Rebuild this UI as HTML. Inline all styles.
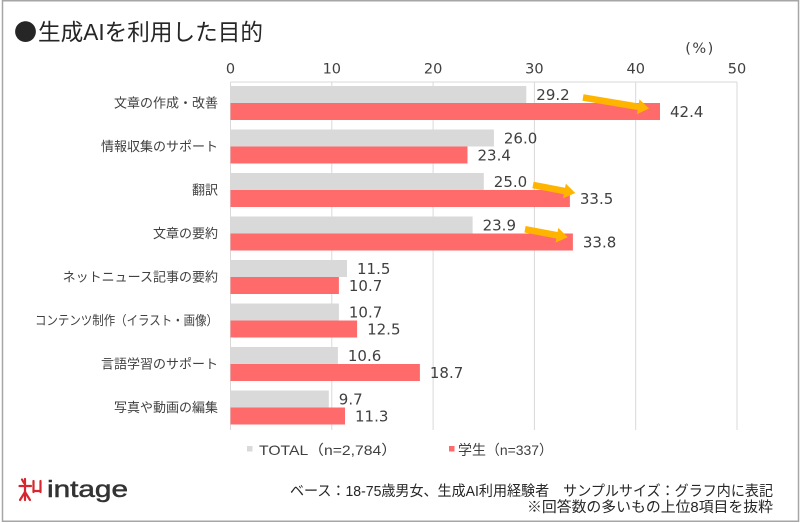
<!DOCTYPE html>
<html><head><meta charset="utf-8"><style>
html,body{margin:0;padding:0;background:#fff;}
svg{display:block;}
.cat{font-family:"Liberation Sans","Noto Sans CJK JP",sans-serif;font-size:13px;fill:#404040;}
.val{font-family:"DejaVu Sans",sans-serif;font-size:15px;fill:#404040;}
.tick{font-family:"DejaVu Sans",sans-serif;font-size:14.5px;fill:#404040;}
</style></head><body>
<svg width="800" height="523" viewBox="0 0 800 523" xmlns="http://www.w3.org/2000/svg">
<rect x="0" y="0" width="800" height="523" fill="#fff"/>
<rect x="2.5" y="0.75" width="796" height="520.5" fill="none" stroke="#a6a6a6" stroke-width="1.5"/>
<text x="14" y="40" font-family="'Noto Sans CJK JP',sans-serif" font-size="23" fill="#262626">●</text>
<text x="38" y="40" font-family="'Liberation Sans','Noto Sans CJK JP',sans-serif" font-size="23" fill="#262626" textLength="225" lengthAdjust="spacingAndGlyphs">生成AIを利用した目的</text>
<text x="700" y="53" text-anchor="middle" class="tick" letter-spacing="1.5">(%)</text>
<g class="tick" text-anchor="middle">
<text x="230.5" y="73.6">0</text><text x="331.8" y="73.6">10</text><text x="433.1" y="73.6">20</text><text x="534.4" y="73.6">30</text><text x="635.7" y="73.6">40</text><text x="737" y="73.6">50</text>
</g>
<g stroke="#d9d9d9" stroke-width="1">
<line x1="230.5" y1="82" x2="737" y2="82"/>
<line x1="230.5" y1="82" x2="230.5" y2="430"/>
<line x1="331.8" y1="82" x2="331.8" y2="430"/>
<line x1="433.1" y1="82" x2="433.1" y2="430"/>
<line x1="534.4" y1="82" x2="534.4" y2="430"/>
<line x1="635.7" y1="82" x2="635.7" y2="430"/>
<line x1="737" y1="82" x2="737" y2="430"/>
</g>
<g fill="#d9d9d9">
<rect x="230.5" y="86" width="295.8" height="17"/>
<rect x="230.5" y="129.5" width="263.4" height="17"/>
<rect x="230.5" y="173" width="253.3" height="17"/>
<rect x="230.5" y="216.5" width="242.1" height="17"/>
<rect x="230.5" y="260" width="116.5" height="17"/>
<rect x="230.5" y="303.5" width="108.4" height="17"/>
<rect x="230.5" y="347" width="107.4" height="17"/>
<rect x="230.5" y="390.5" width="98.3" height="17"/>
</g>
<g fill="#ff6b6b">
<rect x="230.5" y="103" width="429.5" height="17"/>
<rect x="230.5" y="146.5" width="237.0" height="17"/>
<rect x="230.5" y="190" width="339.4" height="17"/>
<rect x="230.5" y="233.5" width="342.4" height="17"/>
<rect x="230.5" y="277" width="108.4" height="17"/>
<rect x="230.5" y="320.5" width="126.6" height="17"/>
<rect x="230.5" y="364" width="189.4" height="17"/>
<rect x="230.5" y="407.5" width="114.5" height="17"/>
</g>
<g class="cat" text-anchor="end">
<text x="218" y="107.7">文章の作成・改善</text>
<text x="218" y="151.2">情報収集のサポート</text>
<text x="218" y="194.7">翻訳</text>
<text x="218" y="238.2">文章の要約</text>
<text x="218" y="281.7">ネットニュース記事の要約</text>
<text x="218" y="325.2" textLength="183" lengthAdjust="spacingAndGlyphs">コンテンツ制作（イラスト・画像）</text>
<text x="218" y="368.7">言語学習のサポート</text>
<text x="218" y="412.2">写真や動画の編集</text>
</g>
<g class="val">
<text x="536.3" y="100">29.2</text><text x="670" y="117">42.4</text>
<text x="503.9" y="143.5">26.0</text><text x="477.5" y="160.5">23.4</text>
<text x="493.8" y="187">25.0</text><text x="579.9" y="204">33.5</text>
<text x="482.6" y="230.5">23.9</text><text x="582.9" y="247.5">33.8</text>
<text x="357" y="274">11.5</text><text x="348.9" y="291">10.7</text>
<text x="348.9" y="317.5">10.7</text><text x="367.1" y="334.5">12.5</text>
<text x="347.9" y="361">10.6</text><text x="429.9" y="378">18.7</text>
<text x="338.8" y="404.5">9.7</text><text x="355" y="421.5">11.3</text>
</g>
<g fill="#ffb400">
<g transform="translate(583,97.5) rotate(9.5)"><polygon points="0,-3.3 56,-3.3 56,-7.5 67,0 56,7.5 56,3.3 0,3.3"/></g>
<g transform="translate(533,185) rotate(10.8)"><polygon points="0,-3.3 32,-3.3 32,-7.5 43,0 32,7.5 32,3.3 0,3.3"/></g>
<g transform="translate(525,229.3) rotate(10.5)"><polygon points="0,-3.3 32.5,-3.3 32.5,-7.5 43.5,0 32.5,7.5 32.5,3.3 0,3.3"/></g>
</g>
<rect x="247" y="446" width="5.5" height="5.5" fill="#d9d9d9"/>
<text x="259" y="455" font-family="'Liberation Sans','Noto Sans CJK JP',sans-serif" font-size="14" fill="#404040" textLength="138" lengthAdjust="spacingAndGlyphs">TOTAL（n=2,784）</text>
<rect x="449" y="446" width="5.5" height="5.5" fill="#ff6b6b"/>
<text x="458" y="455" font-family="'Liberation Sans','Noto Sans CJK JP',sans-serif" font-size="14" fill="#404040" textLength="95" lengthAdjust="spacingAndGlyphs">学生（n=337）</text>
<text x="773" y="496" text-anchor="end" font-family="'Liberation Sans','Noto Sans CJK JP',sans-serif" font-size="14.5" fill="#262626" textLength="483" lengthAdjust="spacingAndGlyphs">ベース：18-75歳男女、生成AI利用経験者　サンプルサイズ：グラフ内に表記</text>
<text x="773" y="512" text-anchor="end" font-family="'Liberation Sans','Noto Sans CJK JP',sans-serif" font-size="14.5" fill="#262626" textLength="246" lengthAdjust="spacingAndGlyphs">※回答数の多いもの上位8項目を抜粋</text>
<g stroke="#d7262e" stroke-width="2.2" fill="none" stroke-linecap="round">
<line x1="22" y1="479.5" x2="24" y2="483"/>
<line x1="19.5" y1="486" x2="31" y2="486"/>
<line x1="25" y1="479" x2="25" y2="500"/>
<line x1="25" y1="492" x2="20" y2="500"/>
<line x1="25" y1="492" x2="30" y2="500"/>
<line x1="33.5" y1="481" x2="33.5" y2="492"/>
<line x1="40.5" y1="481" x2="40.5" y2="492"/>
<line x1="33.5" y1="491" x2="40.5" y2="491"/>
</g>
<text x="47" y="497" font-family="'Liberation Sans',sans-serif" font-size="23" fill="#333" stroke="#333" stroke-width="0.5" textLength="81" lengthAdjust="spacingAndGlyphs">intage</text>
</svg>
</body></html>
